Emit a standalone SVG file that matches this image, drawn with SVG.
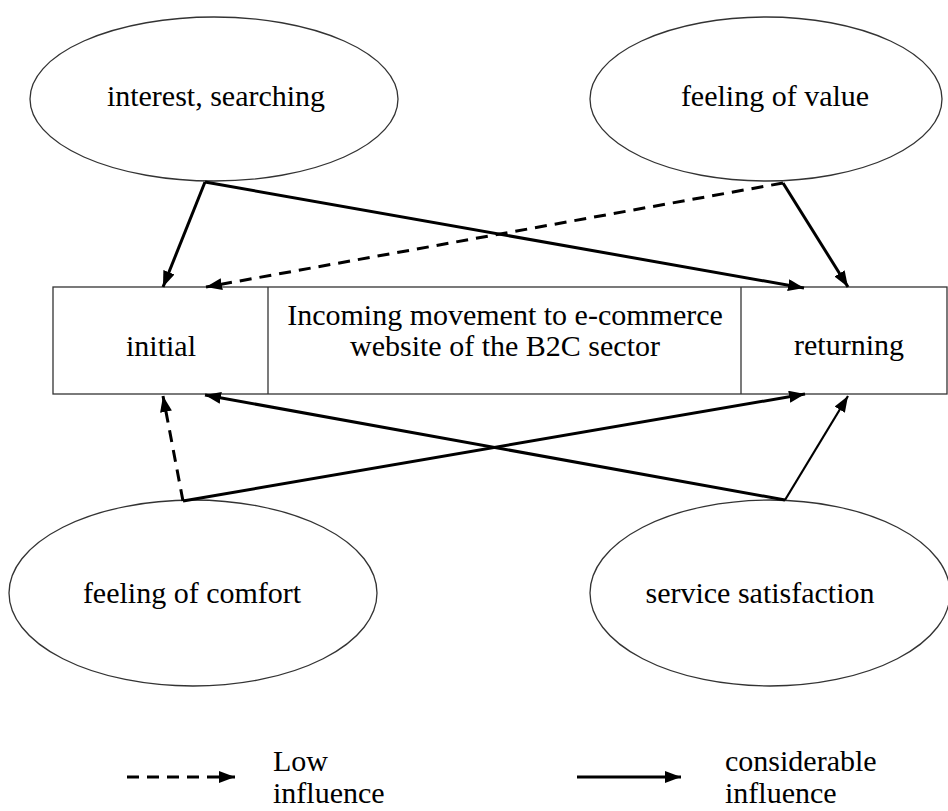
<svg xmlns="http://www.w3.org/2000/svg" width="948" height="811" viewBox="0 0 948 811">
<style>
text{font-family:"Liberation Serif","Times New Roman",serif;font-size:30px;fill:#000;text-anchor:middle}
.node ellipse,.node rect{fill:#fff;stroke:#333;stroke-width:1.3}
.div{stroke:#333;stroke-width:1.3}
.solid{stroke:#000;stroke-width:3;fill:none;marker-end:url(#ah)}
.thin{stroke-width:2.2}
.dash{stroke:#000;stroke-width:3;fill:none;stroke-dasharray:12 8;marker-end:url(#ah)}
</style>
<defs>
<marker id="ah" markerUnits="userSpaceOnUse" markerWidth="18" markerHeight="14" refX="16" refY="6" orient="auto">
<path d="M0,0 L16,6 L0,12 Z" fill="#000"/>
</marker>
</defs>
<rect width="948" height="811" fill="#fff"/>
<g id="interest" class="node">
<ellipse cx="214" cy="99" rx="184" ry="82"/>
<text x="216" y="106">interest, searching</text>
</g>
<g id="value" class="node">
<ellipse cx="766" cy="99" rx="176" ry="82"/>
<text x="775" y="106">feeling of value</text>
</g>
<g id="comfort" class="node">
<ellipse cx="193" cy="593" rx="184" ry="93"/>
<text x="192" y="603">feeling of comfort</text>
</g>
<g id="service" class="node">
<ellipse cx="770" cy="593" rx="180" ry="93"/>
<text x="760" y="603">service satisfaction</text>
</g>
<g id="movement" class="node">
<rect x="53" y="287" width="894" height="107"/>
<line class="div" x1="268" y1="287" x2="268" y2="394"/>
<line class="div" x1="741" y1="287" x2="741" y2="394"/>
<text x="161" y="356">initial</text>
<text x="505" y="325">Incoming movement to e-commerce</text>
<text x="505" y="356">website of the B2C sector</text>
<text x="849" y="355">returning</text>
</g>
<g id="connectors">
<line class="solid" x1="205" y1="182" x2="163" y2="287"/>
<line class="solid" x1="205" y1="182" x2="804" y2="288"/>
<line class="dash" x1="783" y1="183" x2="206" y2="287"/>
<line class="solid" x1="783" y1="183" x2="848" y2="287"/>
<line class="dash" x1="183" y1="501" x2="163" y2="396"/>
<line class="solid" x1="183" y1="501" x2="805" y2="394"/>
<line class="solid" x1="785" y1="500" x2="205" y2="395"/>
<line class="solid thin" x1="785" y1="500" x2="848" y2="396"/>
</g>
<g id="legend">
<line class="dash" x1="127" y1="777" x2="235" y2="777"/>
<line class="solid" x1="577" y1="777" x2="681" y2="777"/>
<text x="273" y="771" style="text-anchor:start">Low</text>
<text x="273" y="803" style="text-anchor:start">influence</text>
<text x="725" y="771" style="text-anchor:start">considerable</text>
<text x="725" y="803" style="text-anchor:start">influence</text>
</g>
</svg>
